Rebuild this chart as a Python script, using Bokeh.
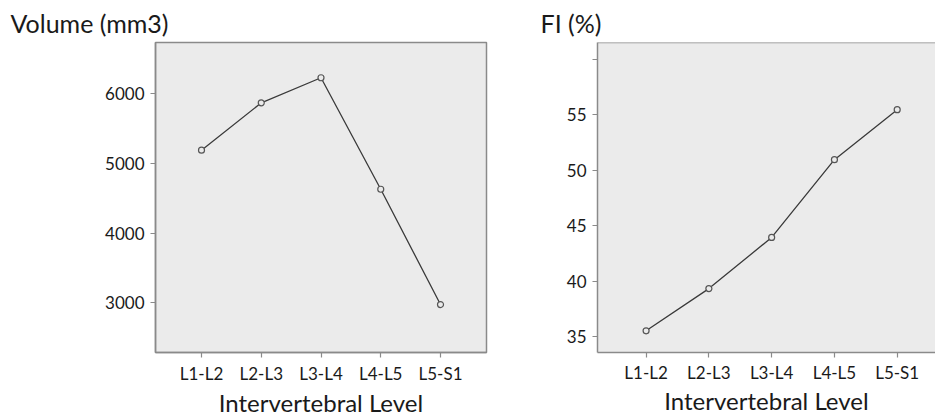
from bokeh.plotting import figure
from bokeh.layouts import row
from bokeh.models import FixedTicker, Range1d, Span
from bokeh.embed import file_html
from bokeh.resources import INLINE

# ---- data ----
levels = ["L1-L2", "L2-L3", "L3-L4", "L4-L5", "L5-S1"]
volume = [5190, 5870, 6230, 4630, 2975]
fi = [35.55, 39.35, 43.95, 50.95, 55.45]
volume_ticks = [3000, 4000, 5000, 6000]
volume_tick_labels = ["3000", "4000", "5000", "6000"]
fi_ticks = [35, 40, 45, 50, 55, 60]
fi_tick_labels = ["35", "40", "45", "50", "55", ""]

FONT = "Lato"
BG = "#ebebeb"
AX = "#8a8a8a"
TXT = "#1a1a1a"
LINE = "#3a3a3a"


def make(values, yr, xr, yticks, ylabels, title, title_offset,
         left_border, frame_w, right_border, top_border, bottom_border,
         height, outline, xlabel_standoff, xtick_standoff):
    xs = list(range(len(levels)))
    p = figure(width=left_border + frame_w + right_border, height=height,
               x_range=Range1d(*xr), y_range=Range1d(*yr),
               output_backend="svg", toolbar_location=None,
               min_border_left=left_border, min_border_right=right_border,
               min_border_top=top_border, min_border_bottom=bottom_border,
               title=title)
    p.background_fill_color = BG
    p.border_fill_color = "white"
    p.xgrid.visible = False
    p.ygrid.visible = False
    if outline:
        p.outline_line_color = AX
        p.outline_line_width = 1.5
        p.outline_line_alpha = 1.0
    else:
        p.outline_line_color = None
        p.add_layout(Span(location=yr[1], dimension="width",
                          line_color=AX, line_width=1.5))

    p.title.align = "left"
    p.title.offset = title_offset
    p.title.text_font = FONT
    p.title.text_font_size = "25px"
    p.title.text_font_style = "normal"
    p.title.text_color = TXT
    p.title.standoff = 9

    for ax in (p.xaxis[0], p.yaxis[0]):
        ax.axis_line_color = AX
        ax.axis_line_width = 1.5
        ax.major_tick_line_color = AX
        ax.major_tick_line_width = 1.2
        ax.major_tick_out = 5
        ax.major_tick_in = 0
        ax.minor_tick_line_color = None
        ax.major_label_text_font = FONT
        ax.major_label_text_font_size = "17px"
        ax.major_label_text_color = TXT

    p.xaxis.ticker = FixedTicker(ticks=xs)
    p.xaxis.major_label_overrides = {i: lab for i, lab in zip(xs, levels)}
    p.xaxis.major_label_standoff = xtick_standoff
    p.xaxis.axis_label = "Intervertebral Level"
    p.xaxis.axis_label_text_font = FONT
    p.xaxis.axis_label_text_font_size = "24px"
    p.xaxis.axis_label_text_font_style = "normal"
    p.xaxis.axis_label_text_color = TXT
    p.xaxis.axis_label_standoff = xlabel_standoff

    p.yaxis.ticker = FixedTicker(ticks=yticks)
    p.yaxis.major_label_overrides = {t: lab for t, lab in zip(yticks, ylabels)}
    p.yaxis.major_label_standoff = 6

    p.line(xs, values, line_color=LINE, line_width=1.3)
    p.scatter(xs, values, marker="circle", size=6, fill_color=BG,
              line_color="#555555", line_width=1.2)
    return p


p1 = make(volume, (2287, 6736), (-0.77, 4.77), volume_ticks, volume_tick_labels,
          "Volume (mm3)", -145, 155, 331, 10, 42, 68, 420, True, 1, 5)
p2 = make(fi, (33.6, 61.49), (-0.774, 4.61), fi_ticks, fi_tick_labels,
          "FI (%)", -57, 101, 338, 0, 42, 66, 420, False, 0, 4)

layout = row(p1, p2)
open("out.html", "w").write(file_html(layout, INLINE))
